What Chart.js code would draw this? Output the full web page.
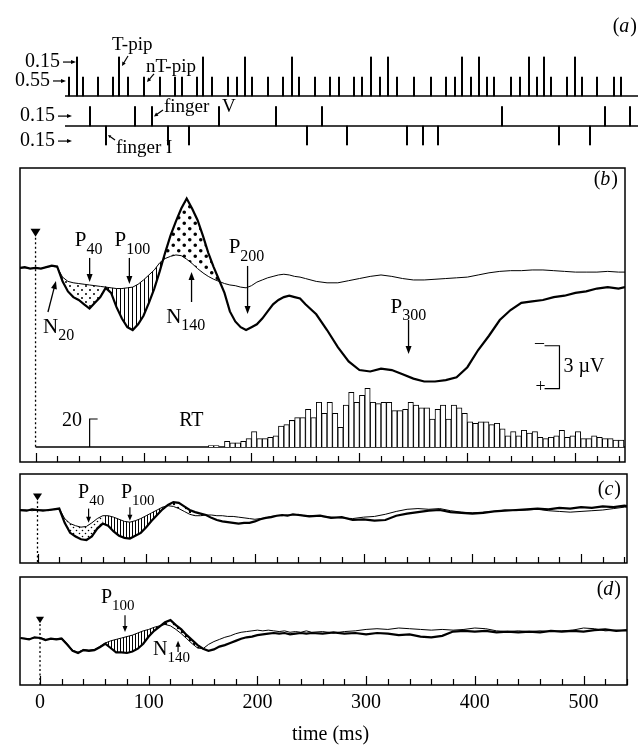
<!DOCTYPE html>
<html>
<head>
<meta charset="utf-8">
<script src="https://cdn.jsdelivr.net/npm/chart.js@4.4.1/dist/chart.umd.min.js"></script>
<style>
  body { margin: 0; background: #fff; width: 638px; height: 745px; position: relative; overflow: hidden; }
  canvas { position: absolute; left: 0; }
</style>
</head>
<body>
<canvas id="pa" width="638" height="160" style="top:0px"></canvas>
<canvas id="pb" width="638" height="310" style="top:160px"></canvas>
<canvas id="pc" width="638" height="104" style="top:466px"></canvas>
<canvas id="pd" width="638" height="175" style="top:570px"></canvas>
<script>
// ---- panel (a): positions of events along the stimulus sequence ----
const tPipPos = [77, 119, 203, 245, 292, 371, 388, 462, 479, 529, 544, 575];
const ntPipPos = [69, 83, 98, 113, 128, 144, 160, 175, 182, 197, 212, 228, 237, 252, 268, 283, 299, 315,
  330, 339, 354, 362, 380, 397, 414, 431, 446, 455, 471, 487, 494, 511, 520, 537, 551, 567, 582, 597, 614, 621];
const fingerVPos = [90, 135, 152, 219, 276, 322, 502, 605, 630];
const fingerIPos = [106, 168, 189, 307, 347, 407, 423, 438, 559, 590];
const probLabels = ['0.15', '0.55', '0.15', '0.15'];

// ---- panels (b)-(d): ERP traces (uV, negative up) on a common time grid (ms) ----
const timeMs = [-18, -10, -5, 0, 5, 10, 15, 20, 25, 30,
  35, 40, 45, 50, 55, 60, 65, 70, 75, 80,
  85, 90, 95, 100, 105, 110, 115, 120, 125, 130,
  135, 140, 145, 150, 155, 160, 165, 170, 175, 180,
  185, 190, 195, 200, 205, 210, 215, 220, 225, 230,
  235, 240, 245, 250, 260, 270, 280, 290, 300, 310,
  320, 330, 340, 350, 360, 370, 380, 390, 400, 410,
  420, 430, 440, 450, 460, 470, 480, 490, 500, 510,
  520, 530, 540, 546];

const bTarget = [-0.1, -0.2, -0.1, -0.15, -0.1, -0.2, -0.3, -0.25, 0.8, 1.5,
  1.9, 2.1, 2.4, 2.7, 2.3, 1.9, 1.25, 1.6, 2.6, 3.4,
  4.0, 4.2, 3.8, 3.2, 2.3, 1.3, 0.1, -1.2, -2.4, -3.4,
  -4.3, -5.0, -4.3, -3.5, -2.4, -1.2, -0.2, 0.7, 1.6, 2.9,
  3.6, 4.0, 4.2, 4.0, 3.8, 3.4, 2.9, 2.4, 2.1, 1.9,
  1.8, 1.9, 2.0, 2.4, 3.1, 4.2, 5.4, 6.4, 7.0, 7.1,
  6.9, 7.0, 7.3, 7.6, 7.8, 7.8, 7.7, 7.5, 6.8, 5.6,
  4.6, 3.5, 2.8, 2.3, 2.2, 2.1, 1.9, 1.8, 1.6, 1.5,
  1.3, 1.2, 1.3, 1.2];
const bNonTarget = [-0.1, -0.15, -0.1, -0.15, -0.1, -0.2, -0.25, -0.2, 0.5, 0.8,
  0.9, 0.95, 1.0, 1.05, 1.1, 1.15, 1.2, 1.25, 1.3, 1.3,
  1.25, 1.2, 1.0, 0.7, 0.35, 0.0, -0.5, -0.8, -0.95, -1.05,
  -1.0, -0.75, -0.45, -0.1, 0.2, 0.45, 0.65, 0.8, 0.95, 1.05,
  1.1, 1.2, 1.25, 1.1, 0.85, 0.7, 0.55, 0.45, 0.35, 0.3,
  0.35, 0.45, 0.5, 0.6, 0.8, 0.9, 0.9, 0.75, 0.6, 0.45,
  0.35, 0.45, 0.6, 0.7, 0.7, 0.65, 0.6, 0.55, 0.5, 0.35,
  0.2, 0.1, 0.05, 0.05, 0.0, 0.0, 0.05, 0.1, 0.15, 0.15,
  0.15, 0.1, 0.15, 0.15];

const cTarget = [0, 0.05, -0.05, 0, 0.05, 0, -0.05, -0.1, 0.9, 1.6,
  1.85, 2.05, 2.1, 1.85, 1.3, 0.95, 1.1, 1.5, 1.8, 1.95,
  2.0, 1.8, 1.6, 1.2, 0.75, 0.35, -0.05, -0.35, -0.55, -0.5,
  -0.25, 0.0, 0.15, 0.25, 0.35, 0.55, 0.7, 0.8, 0.85, 0.9,
  0.95, 0.9, 0.9, 0.8, 0.65, 0.55, 0.5, 0.4, 0.35, 0.4,
  0.3, 0.35, 0.4, 0.45, 0.4, 0.55, 0.5, 0.7, 0.65, 0.75,
  0.7, 0.4, 0.25, 0.15, 0.05, 0.0, 0.15, 0.2, 0.25, 0.2,
  0.1, 0.05, 0.0, -0.05, -0.1, -0.05, -0.15, -0.1, -0.2, -0.15,
  -0.25, -0.2, -0.3, -0.25];
const cNonTarget = [0, 0.0, 0.05, 0, 0.0, 0.05, -0.05, -0.1, 0.6, 0.95,
  1.1, 1.2, 1.15, 0.9, 0.6, 0.4, 0.4, 0.5, 0.65, 0.8,
  0.85, 0.75, 0.6, 0.4, 0.2, 0.0, -0.2, -0.3, -0.25, -0.1,
  0.1, 0.3, 0.4, 0.4, 0.35, 0.35, 0.4, 0.4, 0.45, 0.45,
  0.5, 0.55, 0.6, 0.65, 0.6, 0.55, 0.45, 0.4, 0.4, 0.35,
  0.35, 0.3, 0.4, 0.4, 0.45, 0.5, 0.55, 0.6, 0.5, 0.45,
  0.3, 0.1, -0.05, -0.1, -0.05, -0.1, 0.05, 0.15, 0.2, 0.15,
  0.1, 0.0, 0.05, 0.0, -0.05, 0.05, 0.1, 0.15, 0.1, 0.05,
  0.0, -0.1, -0.2, -0.2];

const dTarget = [0.0, 0.1, -0.05, 0.0, 0.15, 0.05, 0.1, 0.05, 0.45, 0.9,
  1.05, 0.85, 0.9, 0.85, 0.65, 0.4, 0.7, 1.0, 1.0, 1.05,
  0.95, 0.75, 0.4, -0.1, -0.5, -0.8, -1.1, -1.25, -0.9, -0.6,
  -0.2, 0.15, 0.5, 0.75, 0.9, 0.8, 0.6, 0.5, 0.35, 0.2,
  0.05, -0.05, -0.1, -0.2, -0.25, -0.3, -0.35, -0.3, -0.35, -0.25,
  -0.3, -0.35, -0.3, -0.35, -0.3, -0.4, -0.3, -0.35, -0.25, -0.35,
  -0.3, -0.2, -0.25, -0.1, -0.05, -0.15, -0.45, -0.5, -0.45, -0.5,
  -0.4, -0.45, -0.4, -0.45, -0.4, -0.5, -0.45, -0.5, -0.45, -0.55,
  -0.6, -0.5, -0.55, -0.5];
const dNonTarget = [0.0, 0.05, 0.0, -0.05, 0.1, 0.1, 0.05, 0.0, 0.4, 0.85,
  1.0, 0.8, 0.85, 0.8, 0.6, 0.35, 0.2, 0.1, 0.0, -0.1,
  -0.2, -0.35, -0.5, -0.6, -0.75, -0.85, -0.95, -0.85, -0.6, -0.3,
  0.05, 0.4, 0.7, 0.75, 0.45, 0.25, 0.1, -0.05, -0.15, -0.3,
  -0.4, -0.45, -0.5, -0.55, -0.5, -0.55, -0.5, -0.45, -0.5, -0.4,
  -0.45, -0.4, -0.5, -0.4, -0.45, -0.35, -0.45, -0.5, -0.6, -0.65,
  -0.6, -0.7, -0.65, -0.6, -0.55, -0.6, -0.55, -0.6, -0.7, -0.65,
  -0.5, -0.45, -0.5, -0.45, -0.5, -0.45, -0.5, -0.55, -0.7, -0.65,
  -0.5, -0.55, -0.5, -0.5];

// shaded difference windows [from, to] in ms
const bWindows = [[20, 65], [65, 120], [120, 170]];
const cWindows = [[20, 60], [60, 120], [120, 155]];
const dWindows = [[60, 110], [110, 150]];

// reaction-time histogram (5 ms bins)
const rtBinStart = [160, 165, 170, 175, 180, 185, 190, 195, 200, 205,
  210, 215, 220, 225, 230, 235, 240, 245, 250, 255,
  260, 265, 270, 275, 280, 285, 290, 295, 300, 305,
  310, 315, 320, 325, 330, 335, 340, 345, 350, 355,
  360, 365, 370, 375, 380, 385, 390, 395, 400, 405,
  410, 415, 420, 425, 430, 435, 440, 445, 450, 455,
  460, 465, 470, 475, 480, 485, 490, 495, 500, 505,
  510, 515, 520, 525, 530, 535, 540];
const rtCount = [1, 1, 0, 4, 3, 3, 4, 6, 11, 6,
  6, 7, 8, 15, 16, 19, 21, 21, 27, 21,
  32, 24, 32, 24, 14, 30, 39, 32, 37, 42,
  32, 31, 32, 32, 26, 26, 27, 32, 30, 28,
  28, 20, 27, 30, 20, 30, 28, 24, 18, 17,
  18, 18, 16, 17, 13, 8, 11, 8, 12, 10,
  11, 7, 6, 7, 8, 12, 7, 8, 11, 6,
  6, 8, 7, 6, 6, 5, 5];

const axisTicks = [0, 20, 40, 60, 80, 100, 120, 140, 160, 180, 200, 220, 240, 260, 280,
  300, 320, 340, 360, 380, 400, 420, 440, 460, 480, 500, 520, 540];
const timeLabels = [0, 100, 200, 300, 400, 500];

const SERIF = '"Liberation Serif", "Times New Roman", serif';

function pts(vals) { return timeMs.map((t, i) => ({ x: t, y: vals[i] })); }

function tile(w, h, draw) {
  const c = document.createElement('canvas');
  c.width = w; c.height = h;
  const g = c.getContext('2d');
  g.fillStyle = '#000'; g.strokeStyle = '#000';
  draw(g);
  return c;
}
function dots(ctx, step, r) {
  return ctx.createPattern(tile(step, step, g => {
    g.beginPath();
    g.arc(step / 4, step / 4, r, 0, Math.PI * 2);
    g.moveTo(3 * step / 4 + r, 3 * step / 4);
    g.arc(3 * step / 4, 3 * step / 4, r, 0, Math.PI * 2);
    g.fill();
  }), 'repeat');
}
function hatch(ctx, step) {
  return ctx.createPattern(tile(step, 8, g => { g.fillRect(0, 0, 1, 8); }), 'repeat');
}

function traceSets(target, nonTarget, windows, patterns) {
  const sets = [
    { data: pts(target), borderColor: '#000', borderWidth: 2.2, pointRadius: 0, fill: false },
    { data: pts(nonTarget), borderColor: '#000', borderWidth: 1, pointRadius: 0, fill: false }
  ];
  windows.forEach((w, k) => {
    sets.push({
      data: pts(target).filter(p => p.x >= w[0] && p.x <= w[1]),
      borderColor: 'rgba(0,0,0,0)', borderWidth: 1, pointRadius: 0,
      fill: 1, backgroundColor: patterns[k]
    });
  });
  return sets;
}

function arrow(ctx, x1, y1, x2, y2, hl, hw) {
  const a = Math.atan2(y2 - y1, x2 - x1), c = Math.cos(a), s = Math.sin(a);
  ctx.beginPath();
  ctx.moveTo(x1, y1);
  ctx.lineTo(x2 - hl * c * 0.7, y2 - hl * s * 0.7);
  ctx.stroke();
  ctx.beginPath();
  ctx.moveTo(x2, y2);
  ctx.lineTo(x2 - hl * c + hw * s, y2 - hl * s - hw * c);
  ctx.lineTo(x2 - hl * c - hw * s, y2 - hl * s + hw * c);
  ctx.closePath();
  ctx.fill();
}

function peak(ctx, x, y, main, sub, big, small) {
  ctx.textAlign = 'left'; ctx.textBaseline = 'middle';
  ctx.font = big + 'px ' + SERIF;
  ctx.fillText(main, x, y);
  const w = ctx.measureText(main).width;
  ctx.font = small + 'px ' + SERIF;
  ctx.fillText(sub, x + w, y + big * 0.4);
}

function panelTag(ctx, x, y, letter) {
  ctx.textAlign = 'right'; ctx.textBaseline = 'middle';
  ctx.font = '20px ' + SERIF;
  const close = ')';
  ctx.fillText(close, x, y);
  let w = ctx.measureText(close).width;
  ctx.font = 'italic 20px ' + SERIF;
  ctx.fillText(letter, x - w - 1, y);
  w += ctx.measureText(letter).width + 1;
  ctx.font = '20px ' + SERIF;
  ctx.fillText('(', x - w, y);
}

// box, inward time ticks, stimulus-onset marker
function frame(chart, onsetV, onsetBottom, triSize) {
  const { ctx, chartArea: a, scales: { x, y } } = chart;
  ctx.save();
  ctx.strokeStyle = '#000'; ctx.fillStyle = '#000';
  ctx.lineWidth = 1.5;
  ctx.strokeRect(a.left, a.top, a.right - a.left, a.bottom - a.top);
  ctx.lineWidth = 1.2;
  axisTicks.forEach(t => {
    const X = Math.round(x.getPixelForValue(t)) + 0.5;
    const L = t % 100 === 0 ? 9 : 6;
    ctx.beginPath(); ctx.moveTo(X, a.bottom); ctx.lineTo(X, a.bottom - L); ctx.stroke();
  });
  const X0 = x.getPixelForValue(0);
  const Yt = y.getPixelForValue(onsetV);
  ctx.beginPath();
  ctx.moveTo(X0 - triSize, Yt - triSize * 0.8);
  ctx.lineTo(X0 + triSize, Yt - triSize * 0.8);
  ctx.lineTo(X0, Yt + triSize * 0.8);
  ctx.closePath(); ctx.fill();
  ctx.setLineDash([2, 2.5]); ctx.lineWidth = 1.3;
  ctx.beginPath(); ctx.moveTo(X0, Yt + triSize); ctx.lineTo(X0, onsetBottom); ctx.stroke();
  ctx.restore();
}

const common = {
  responsive: false, animation: false, events: [],
  plugins: { legend: { display: false }, tooltip: { enabled: false } }
};

// ---------------- (a) ----------------
const TALL = 2.0, SHORT = 0.97, ROW2 = -1.54, FINGER = 1.0;
new Chart(document.getElementById('pa'), {
  type: 'bar',
  data: {
    datasets: [
      { data: tPipPos.map(p => ({ x: p, y: [0, TALL] })) },
      { data: ntPipPos.map(p => ({ x: p, y: [0, SHORT] })) },
      { data: fingerVPos.map(p => ({ x: p, y: [ROW2, ROW2 + FINGER] })) },
      { data: fingerIPos.map(p => ({ x: p, y: [ROW2 - FINGER * 0.97, ROW2] })) },
      { type: 'line', data: [{ x: 65, y: 0 }, { x: 638, y: 0 }], borderColor: '#000', borderWidth: 1.6, pointRadius: 0 },
      { type: 'line', data: [{ x: 65, y: ROW2 }, { x: 638, y: ROW2 }], borderColor: '#000', borderWidth: 1.6, pointRadius: 0 }
    ]
  },
  options: Object.assign({}, common, {
    layout: { padding: 0 },
    datasets: { bar: { barThickness: 1.4, backgroundColor: '#000', borderWidth: 0, grouped: false } },
    scales: {
      x: { type: 'linear', display: false, min: 0, max: 638, offset: false },
      y: { display: false, min: -3.28, max: 4.92 }
    }
  }),
  plugins: [{
    id: 'annA',
    afterDraw(chart) {
      const { ctx, scales: { x, y } } = chart;
      const P = (u, v) => [x.getPixelForValue(u), y.getPixelForValue(v)];
      ctx.save();
      ctx.fillStyle = '#000'; ctx.strokeStyle = '#000'; ctx.lineWidth = 1.2;
      const rows = [[1.74, 60, 63, 76], [0.77, 50, 53, 66], [-1.03, 55, 58, 72], [-2.31, 55, 58, 72]];
      ctx.font = '20px ' + SERIF; ctx.textAlign = 'right'; ctx.textBaseline = 'middle';
      rows.forEach((r, i) => {
        const [tx, ty] = P(r[1], r[0]);
        ctx.fillText(probLabels[i], tx, ty);
        const [a1] = P(r[2], r[0]); const [a2] = P(r[3], r[0]);
        arrow(ctx, a1, ty, a2, ty, 5, 2);
      });
      ctx.textAlign = 'left'; ctx.font = '19px ' + SERIF;
      let q = P(112, 2.62); ctx.fillText('T-pip', q[0], q[1]);
      let s = P(128, 2.05), e = P(122, 1.54); arrow(ctx, s[0], s[1], e[0], e[1], 4, 2);
      q = P(146, 1.49); ctx.fillText('nT-pip', q[0], q[1]);
      s = P(154, 1.13); e = P(147, 0.72); arrow(ctx, s[0], s[1], e[0], e[1], 4, 2);
      q = P(164, -0.56); ctx.fillText('finger', q[0], q[1]);
      q = P(222, -0.56); ctx.fillText('V', q[0], q[1]);
      s = P(163, -0.72); e = P(154, -1.05); arrow(ctx, s[0], s[1], e[0], e[1], 4, 2);
      q = P(116, -2.67); ctx.fillText('finger I', q[0], q[1]);
      s = P(115, -2.26); e = P(108, -2.0); arrow(ctx, s[0], s[1], e[0], e[1], 3, 1.5);
      q = P(637, 3.54); panelTag(ctx, q[0], q[1], 'a');
      ctx.restore();
    }
  }]
});

// ---------------- (b) ----------------
const ctxB = document.getElementById('pb').getContext('2d');
const bSets = traceSets(bTarget, bNonTarget, bWindows, [dots(ctxB, 8, 1.0), hatch(ctxB, 4), dots(ctxB, 11, 1.8)]);
bSets.push({
  type: 'bar', yAxisID: 'yh',
  data: rtBinStart.map((b, i) => ({ x: b + 2.5, y: rtCount[i] })),
  backgroundColor: '#fff', borderColor: '#000', borderWidth: 1,
  barPercentage: 1, categoryPercentage: 1, grouped: false
});
bSets.push({ yAxisID: 'yh', data: [{ x: 0, y: 0 }, { x: 546, y: 0 }], borderColor: '#000', borderWidth: 1.3, pointRadius: 0 });
new Chart(ctxB, {
  type: 'line',
  data: { datasets: bSets },
  options: Object.assign({}, common, {
    layout: { padding: { left: 20, right: 13, top: 8, bottom: 8 } },
    scales: {
      x: { type: 'linear', display: false, min: -14.4, max: 546, offset: false },
      y: { display: false, reverse: true, min: -7.13, max: 13.43 },
      yh: { display: false, min: -10.7, max: 199.3 }
    }
  }),
  plugins: [{
    id: 'annB',
    afterDraw(chart) {
      const { ctx, scales: { x, y, yh } } = chart;
      const P = (t, v) => [x.getPixelForValue(t), y.getPixelForValue(v)];
      const H = (t, n) => [x.getPixelForValue(t), yh.getPixelForValue(n)];
      frame(chart, -2.6, yh.getPixelForValue(0), 5);
      ctx.save();
      ctx.fillStyle = '#000'; ctx.strokeStyle = '#000'; ctx.lineWidth = 1.3;
      const labels = [[36.3, -2.03, 'P', '40'], [73.1, -2.03, 'P', '100'], [6.9, 3.99, 'N', '20'],
        [121.0, 3.29, 'N', '140'], [178.9, -1.54, 'P', '200'], [328.9, 2.59, 'P', '300']];
      labels.forEach(l => { const q = P(l[0], l[1]); peak(ctx, q[0], q[1], l[2], l[3], 21, 16); });
      const arrows = [[50.1, -0.84, 50.1, 0.84], [86.9, -0.84, 86.9, 0.98], [11.5, 2.94, 18.9, 0.77],
        [144.5, 2.24, 144.5, 0.15], [196.4, -0.28, 196.4, 3.08], [345.5, 3.5, 345.5, 5.87]];
      arrows.forEach(a => { const s = P(a[0], a[1]), e = P(a[2], a[3]); arrow(ctx, s[0], s[1], e[0], e[1], 8, 3); });
      let q = P(546, -6.29); panelTag(ctx, q[0] - 7, q[1], 'b');
      // 3 uV calibration bracket
      const b1 = P(471.5, 5.3), b2 = P(485.3, 8.3);
      ctx.lineWidth = 1.2;
      ctx.beginPath(); ctx.moveTo(b1[0], b1[1]); ctx.lineTo(b2[0], b1[1]); ctx.lineTo(b2[0], b2[1]); ctx.lineTo(b1[0], b2[1]); ctx.stroke();
      ctx.font = '18px ' + SERIF; ctx.textAlign = 'center'; ctx.textBaseline = 'middle';
      q = P(466.9, 5.1); ctx.fillText('\u2013', q[0], q[1]);
      q = P(467.8, 8.2); ctx.fillText('+', q[0], q[1]);
      ctx.font = '20px ' + SERIF; ctx.textAlign = 'left';
      q = P(489, 6.8); ctx.fillText('3 \u00b5V', q[0], q[1]);
      // RT count scale
      const c0 = H(50.1, 0), c1 = H(57.5, 20);
      ctx.beginPath(); ctx.moveTo(c0[0], c0[1]); ctx.lineTo(c0[0], c1[1]); ctx.lineTo(c1[0], c1[1]); ctx.stroke();
      ctx.textAlign = 'right'; q = H(43, 19); ctx.fillText('20', q[0], q[1]);
      ctx.textAlign = 'left'; q = H(133, 19); ctx.fillText('RT', q[0], q[1]);
      ctx.restore();
    }
  }]
});

// ---------------- (c) ----------------
const ctxC = document.getElementById('pc').getContext('2d');
new Chart(ctxC, {
  type: 'line',
  data: { datasets: traceSets(cTarget, cNonTarget, cWindows, [dots(ctxC, 6, 0.8), hatch(ctxC, 3), dots(ctxC, 8, 1.2)]) },
  options: Object.assign({}, common, {
    layout: { padding: { left: 20, right: 11, top: 8, bottom: 7 } },
    scales: {
      x: { type: 'linear', display: false, min: -16.1, max: 542.3, offset: false },
      y: { display: false, reverse: true, min: -2.52, max: 3.71 }
    }
  }),
  plugins: [{
    id: 'annC',
    afterDraw(chart) {
      const { ctx, chartArea: a, scales: { x, y } } = chart;
      const P = (t, v) => [x.getPixelForValue(t), y.getPixelForValue(v)];
      frame(chart, -0.91, a.bottom, 4.5);
      ctx.save();
      ctx.fillStyle = '#000'; ctx.strokeStyle = '#000'; ctx.lineWidth = 1.2;
      [[37.3, -1.19, 'P', '40'], [76.8, -1.19, 'P', '100']].forEach(l => {
        const q = P(l[0], l[1]); peak(ctx, q[0], q[1], l[2], l[3], 20, 15);
      });
      [[47, -0.1, 0.9], [85, -0.2, 0.75]].forEach(r => {
        const s = P(r[0], r[1]), e = P(r[0], r[2]); arrow(ctx, s[0], s[1], e[0], e[1], 6, 2.5);
      });
      const q = P(542.3, -1.4); panelTag(ctx, q[0] - 6, q[1], 'c');
      ctx.restore();
    }
  }]
});

// ---------------- (d) ----------------
const ctxD = document.getElementById('pd').getContext('2d');
new Chart(ctxD, {
  type: 'line',
  data: { datasets: traceSets(dTarget, dNonTarget, dWindows, [hatch(ctxD, 3), dots(ctxD, 8, 1.2)]) },
  options: Object.assign({}, common, {
    layout: { padding: { left: 20, right: 11, top: 7, bottom: 60 } },
    scales: {
      x: { type: 'linear', display: false, min: -18.4, max: 540, offset: false },
      y: { display: false, reverse: true, min: -4.27, max: 3.29 }
    }
  }),
  plugins: [{
    id: 'annD',
    afterDraw(chart) {
      const { ctx, chartArea: a, scales: { x, y } } = chart;
      const P = (t, v) => [x.getPixelForValue(t), y.getPixelForValue(v)];
      frame(chart, -1.26, a.bottom, 4);
      ctx.save();
      ctx.fillStyle = '#000'; ctx.strokeStyle = '#000'; ctx.lineWidth = 1.2;
      let q = P(56.1, -2.8); peak(ctx, q[0], q[1], 'P', '100', 20, 15);
      q = P(104, 0.84); peak(ctx, q[0], q[1], 'N', '140', 20, 15);
      let s = P(78.2, -1.6), e = P(78.2, -0.42); arrow(ctx, s[0], s[1], e[0], e[1], 6, 2.5);
      s = P(127, 0.98); e = P(127, 0.2); arrow(ctx, s[0], s[1], e[0], e[1], 6, 2.5);
      q = P(540, -3.36); panelTag(ctx, q[0] - 6, q[1], 'd');
      ctx.font = '20px ' + SERIF; ctx.textAlign = 'center'; ctx.textBaseline = 'middle';
      timeLabels.forEach(t => ctx.fillText(String(t), x.getPixelForValue(t), a.bottom + 18));
      ctx.fillText('time (ms)', (a.left + a.right) / 2 + 7, a.bottom + 50);
      ctx.restore();
    }
  }]
});
</script>
</body>
</html>
